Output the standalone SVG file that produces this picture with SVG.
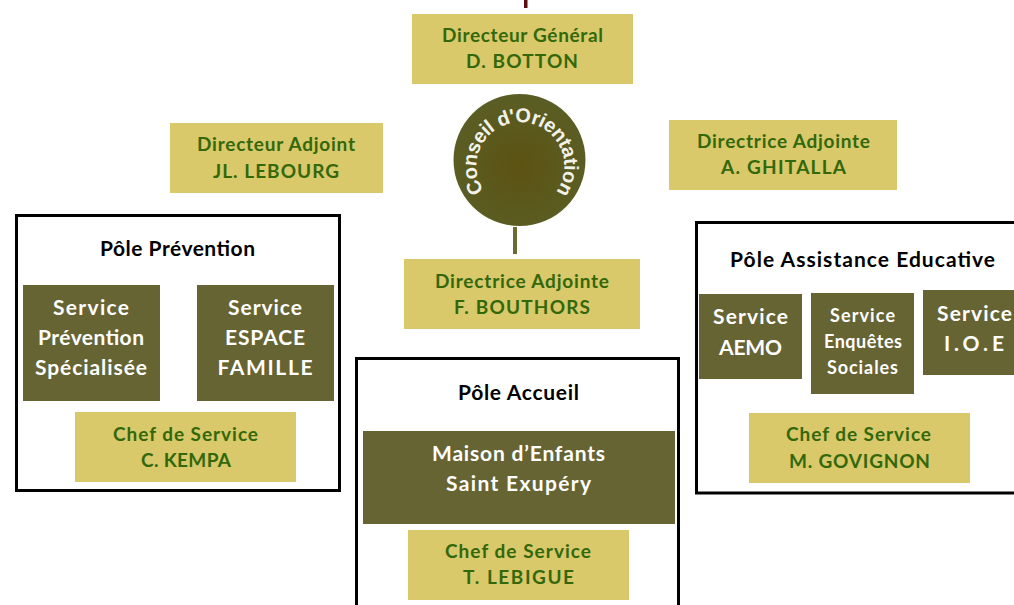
<svg xmlns="http://www.w3.org/2000/svg" width="1014" height="605" viewBox="0 0 1014 605">
<style>
text{font-family:"Lato","Open Sans",sans-serif;font-weight:700;text-anchor:middle}
.tan{fill:#d9c96a}
.dark{fill:#666433}
.pole{fill:#fff;stroke:#000;stroke-width:3}
.g{fill:#33680a;font-size:19px}
.w{fill:#fff;font-size:21px}
.ws{fill:#fff;font-size:18px}
.k{fill:#000;font-size:21px}
</style>
<defs>
<radialGradient id="disc" cx="0.5" cy="0.55" r="0.6"><stop offset="0" stop-color="#5c5212"/><stop offset="1" stop-color="#5a5f26"/></radialGradient>
<path id="arc" d="M484,191 A44,44 0 1 1 556,192"/>
</defs>
<rect width="1014" height="605" fill="#fff"/>
<rect x="524" y="0" width="3.500" height="8" fill="#5a1010"/>
<g id="connectors"><line x1="515" y1="227" x2="515" y2="254" stroke="#6b6a35" stroke-width="4"/></g>
<g id="directeur-general"><rect class="tan" x="412" y="14" width="221" height="70"/>
<text class="g" x="522.500" y="42" textLength="161">Directeur Général</text><text class="g" x="522" y="68" textLength="112">D. BOTTON</text></g>
<g id="adjoint-lebourg"><rect class="tan" x="170" y="123" width="213" height="70"/>
<text class="g" x="276" y="151" textLength="158">Directeur Adjoint</text><text class="g" x="276" y="178" textLength="126">JL. LEBOURG</text></g>
<g id="adjointe-ghitalla"><rect class="tan" x="669" y="120" width="228" height="70"/>
<text class="g" x="783.500" y="148" textLength="173">Directrice Adjointe</text><text class="g" x="783.500" y="174" textLength="125">A. GHITALLA</text></g>
<g id="conseil"><circle cx="519.500" cy="160" r="66" fill="url(#disc)"/>
<text font-size="20" fill="#f2f2ea" style="font-family:'Liberation Sans',sans-serif;font-weight:700;text-anchor:start"><textPath href="#arc" textLength="192">Conseil d'Orientation</textPath></text></g>
<g id="adjointe-bouthors"><rect class="tan" x="404" y="259" width="236" height="70"/>
<text class="g" x="522" y="288" textLength="174">Directrice Adjointe</text><text class="g" x="522" y="314" textLength="136">F. BOUTHORS</text></g>
<g id="pole-prevention"><rect class="pole" x="16.500" y="215.500" width="323" height="275"/>
<text class="k" x="177.500" y="256" textLength="155">Pôle Prévention</text></g>
<g id="service-prevention"><rect class="dark" x="23" y="285" width="137" height="116"/>
<text class="w" x="91" y="315" textLength="76">Service</text><text class="w" x="91" y="345" textLength="106">Prévention</text><text class="w" x="91" y="375" textLength="112">Spécialisée</text></g>
<g id="service-espace"><rect class="dark" x="197" y="285" width="137" height="116"/>
<text class="w" x="265" y="315" textLength="74">Service</text><text class="w" x="265" y="345" textLength="80">ESPACE</text><text class="w" x="265" y="375" textLength="95">FAMILLE</text></g>
<g id="chef-kempa"><rect class="tan" x="75" y="412" width="221" height="70"/>
<text class="g" x="185.500" y="441" textLength="145">Chef de Service</text><text class="g" x="186" y="467" textLength="90">C. KEMPA</text></g>
<g id="pole-accueil"><rect class="pole" x="356.500" y="358.500" width="322" height="260"/>
<text class="k" x="518.500" y="400" textLength="121">Pôle Accueil</text></g>
<g id="maison-enfants"><rect class="dark" x="363" y="431" width="312" height="93"/>
<text class="w" x="518.500" y="461" textLength="173">Maison d’Enfants</text><text class="w" x="518.500" y="491" textLength="145">Saint Exupéry</text></g>
<g id="chef-lebigue"><rect class="tan" x="408" y="530" width="221" height="70"/>
<text class="g" x="518" y="558" textLength="146">Chef de Service</text><text class="g" x="518.500" y="584" textLength="111">T. LEBIGUE</text></g>
<g id="pole-assistance"><rect class="pole" x="696.500" y="222.500" width="330" height="270.500"/>
<text class="k" x="862.500" y="267" textLength="265">Pôle Assistance Educative</text></g>
<g id="service-aemo"><rect class="dark" x="699" y="294" width="103" height="85"/>
<text class="w" x="750.500" y="324" textLength="75">Service</text><text class="w" x="750.500" y="355" textLength="63">AEMO</text></g>
<g id="service-enquetes"><rect class="dark" x="811" y="293" width="103" height="101"/>
<text class="ws" x="862.500" y="322" textLength="65">Service</text><text class="ws" x="863" y="348" textLength="78">Enquêtes</text><text class="ws" x="862.500" y="374" textLength="71">Sociales</text></g>
<g id="service-ioe"><rect class="dark" x="923" y="290" width="91" height="85"/>
<text class="w" x="974.500" y="321" textLength="75">Service</text><text class="w" x="974" y="351" textLength="60">I.O.E</text></g>
<g id="chef-govignon"><rect class="tan" x="749" y="413" width="221" height="70"/>
<text class="g" x="858.500" y="441" textLength="145">Chef de Service</text><text class="g" x="859.500" y="468" textLength="141">M. GOVIGNON</text></g>
</svg>
